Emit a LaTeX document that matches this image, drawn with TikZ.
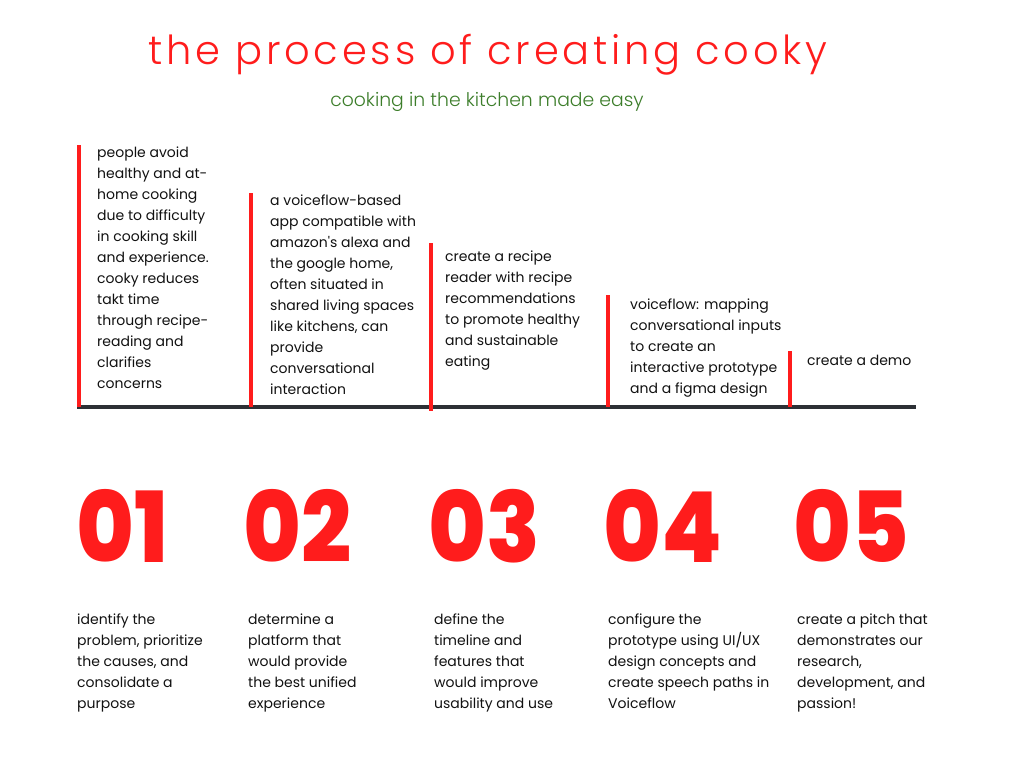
\documentclass[tikz,border=0pt]{standalone}
\usepackage{fontspec}
\setmainfont{Poppins}
\newfontfamily\titlefont{Poppins Light}[LetterSpace=9.5]
\newfontfamily\subfont{Poppins Light}
\newfontfamily\numfont{Poppins}[UprightFont=* ExtraBold, FakeStretch=0.9]
\definecolor{cred}{HTML}{FF1C1C}
\definecolor{cgray}{HTML}{2D3035}
\definecolor{cgreen}{HTML}{3C7D2A}
\definecolor{ctext}{HTML}{111111}
\tikzset{
  body/.style={anchor=base west, align=left, inner sep=0pt, text=ctext,
     font=\fontsize{14}{21}\selectfont},
  num/.style={anchor=base west, inner sep=0pt, text=cred, font=\numfont\fontsize{98}{98}\selectfont},
  bar/.style={draw=cred, line width=4pt},
  axis/.style={draw=cgray, line width=4pt}
}
\begin{document}
\begin{tikzpicture}[x=1pt,y=-1pt]
\useasboundingbox (0,0) rectangle (1024,768);
% title
\node[anchor=base, inner sep=0pt, text=cred, font=\titlefont\fontsize{40}{40}\selectfont] (title) at (488,64) {the process of creating cooky};
\node[anchor=base, inner sep=0pt, text=cgreen, font=\subfont\fontsize{18.8}{18.8}\selectfont] (sub) at (487,106) {cooking in the kitchen made easy};
% axis
\coordinate (a0) at (77,407);
\coordinate (a1) at (916,407);
\draw[axis] (a0) -- (a1);
% bars
\coordinate (b1t) at (79,145); \coordinate (b1b) at (79,407);
\coordinate (b2t) at (251,193); \coordinate (b2b) at (251,407);
\coordinate (b3t) at (431,243); \coordinate (b3b) at (431,411);
\coordinate (b4t) at (608,295); \coordinate (b4b) at (608,407);
\coordinate (b5t) at (790,351); \coordinate (b5b) at (790,407);
\draw[bar] (b1t) -- (b1b);
\draw[bar] (b2t) -- (b2b);
\draw[bar] (b3t) -- (b3b);
\draw[bar] (b4t) -- (b4b);
\draw[bar] (b5t) -- (b5b);
% upper texts (anchored at the baseline of their last line)
\node[body] (t1) at (97,388) {people avoid\\healthy and at-\\home cooking\\due to difficulty\\in cooking skill\\and experience.\\cooky reduces\\takt time\\through recipe-\\reading and\\clarifies\\concerns};
\node[body] (t2) at (270,394) {a voiceflow-based\\app compatible with\\amazon\textquotesingle s alexa and\\the google home,\\often situated in\\shared living spaces\\like kitchens, can\\provide\\conversational\\interaction};
\node[body] (t3) at (445,366) {create a recipe\\reader with recipe\\recommendations\\to promote healthy\\and sustainable\\eating};
\node[body] (t4) at (630,393) {voiceflow: mapping\\conversational inputs\\to create an\\interactive prototype\\and a figma design};
\node[body] (t5) at (807,365) {create a demo};
% numbers
\node[num] (n1) at (76,562) {01};
\node[num] (n2) at (243,562) {02};
\node[num] (n3) at (428,562) {03};
\node[num] (n4) at (603,562) {04};
\node[num] (n5) at (793,562) {05};
% lower texts
\node[body] (d1) at (77,708) {identify the\\problem, prioritize\\the causes, and\\consolidate a\\purpose};
\node[body] (d2) at (248,708) {determine a\\platform that\\would provide\\the best unified\\experience};
\node[body] (d3) at (434,708) {define the\\timeline and\\features that\\would improve\\usability and use};
\node[body] (d4) at (608,708) {configure the\\prototype using UI/UX\\design concepts and\\create speech paths in\\Voiceflow};
\node[body] (d5) at (797,708) {create a pitch that\\demonstrates our\\research,\\development, and\\passion!};
\end{tikzpicture}
\end{document}
